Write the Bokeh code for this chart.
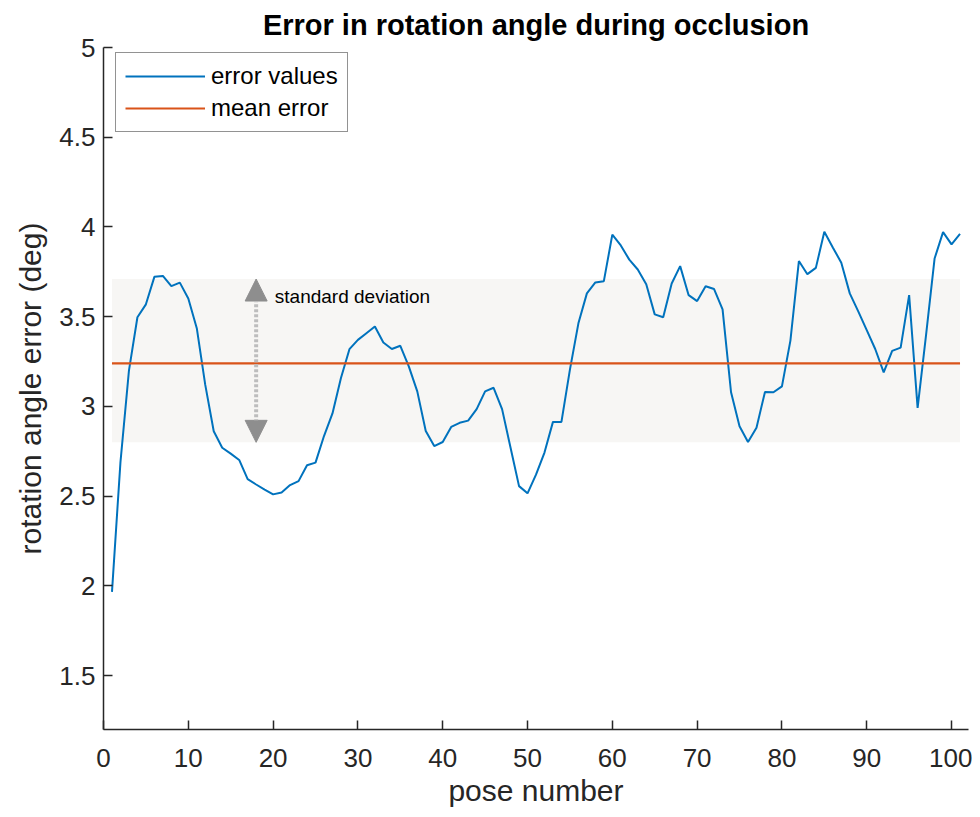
from bokeh.plotting import figure
from bokeh.models import (Range1d, FixedTicker, NumeralTickFormatter, Legend, LegendItem,
                          Arrow, NormalHead, Label)
from bokeh.embed import file_html
from bokeh.resources import INLINE

# ---- data ----
pose = list(range(1, 102))
error_values = [
    1.967, 2.69, 3.20, 3.497, 3.569, 3.722, 3.727, 3.670, 3.690, 3.602,
    3.436, 3.12, 2.862, 2.77, 2.737, 2.702, 2.595, 2.565, 2.536, 2.51,
    2.521, 2.562, 2.584, 2.672, 2.687, 2.835, 2.961, 3.158, 3.319, 3.371,
    3.408, 3.445, 3.356, 3.32, 3.338, 3.223, 3.084, 2.863, 2.779, 2.802,
    2.886, 2.909, 2.921, 2.985, 3.084, 3.104, 2.985, 2.77, 2.556, 2.516,
    2.62, 2.743, 2.914, 2.914, 3.205, 3.463, 3.63, 3.691, 3.698, 3.957,
    3.897, 3.818, 3.763, 3.681, 3.513, 3.497, 3.685, 3.782, 3.62, 3.587,
    3.67, 3.654, 3.541, 3.079, 2.89, 2.802, 2.881, 3.081, 3.079, 3.112,
    3.367, 3.81, 3.737, 3.772, 3.973, 3.886, 3.801, 3.63, 3.53, 3.425,
    3.32, 3.19, 3.31, 3.328, 3.62, 2.992, 3.40, 3.824, 3.971, 3.903,
    3.962,
]
mean_error = 3.24
std_low = 2.80
std_high = 3.71
x_ticks = [0, 10, 20, 30, 40, 50, 60, 70, 80, 90, 100]
y_ticks = [1.5, 2, 2.5, 3, 3.5, 4, 4.5, 5]

FONT = "Liberation Sans"
AXC = "#262626"

p = figure(width=972, height=809, output_backend="svg", toolbar_location=None,
           x_range=Range1d(0, 102), y_range=Range1d(1.2, 5),
           min_border_left=103, min_border_right=4, min_border_top=47,
           min_border_bottom=80)
p.outline_line_color = None
p.xgrid.visible = False
p.ygrid.visible = False
p.background_fill_color = "white"
p.border_fill_color = "white"

p.title.text = "Error in rotation angle during occlusion"
p.title.align = "center"
p.title.text_font = FONT
p.title.text_font_size = "29px"
p.title.text_font_style = "bold"
p.title.text_color = "black"
p.title.standoff = 13

# std band
p.quad(left=[pose[0]], right=[pose[-1]], bottom=[std_low], top=[std_high],
       fill_color="#f7f6f4", line_color=None)

r_err = p.line(pose, error_values, line_color="#0072BD", line_width=2)
r_mean = p.line([pose[0], pose[-1]], [mean_error, mean_error],
                line_color="#D95319", line_width=2.2)

# std arrow
arrow = Arrow(x_start=18, y_start=std_low, x_end=18, y_end=std_high,
              line_color="#bdbdbd", line_width=4, line_dash="3 2",
              start=NormalHead(size=22, fill_color="#8e8e8e", line_color="#8e8e8e"),
              end=NormalHead(size=22, fill_color="#8e8e8e", line_color="#8e8e8e"))
p.add_layout(arrow)
p.add_layout(Label(x=20.2, y=3.61, text="standard deviation", text_font=FONT,
                   text_font_size="19px", text_baseline="middle", text_color="black"))

# axes
for ax in (p.xaxis[0], p.yaxis[0]):
    ax.axis_line_color = AXC
    ax.axis_line_width = 1.5
    ax.major_tick_line_color = AXC
    ax.major_tick_line_width = 1.5
    ax.major_tick_in = 9
    ax.major_tick_out = 0
    ax.minor_tick_line_color = None
    ax.major_label_text_font = FONT
    ax.major_label_text_font_size = "26px"
    ax.major_label_text_color = AXC
    ax.axis_label_text_font = FONT
    ax.axis_label_text_font_size = "30px"
    ax.axis_label_text_font_style = "normal"
    ax.axis_label_text_color = AXC

p.xaxis.ticker = FixedTicker(ticks=x_ticks)
p.yaxis.ticker = FixedTicker(ticks=y_ticks)
p.yaxis.formatter = NumeralTickFormatter(format="0.[0]")
p.xaxis.axis_label = "pose number"
p.yaxis.axis_label = "rotation angle error (deg)"
p.xaxis.major_label_standoff = 19
p.xaxis.axis_label_standoff = 4
p.yaxis.major_label_standoff = 8
p.yaxis.axis_label_standoff = 9

legend = Legend(items=[LegendItem(label="error values", renderers=[r_err]),
                       LegendItem(label="mean error", renderers=[r_mean])],
                location=(12, 597))
legend.label_text_font = FONT
legend.label_text_font_size = "24px"
legend.label_text_color = "black"
legend.glyph_width = 80
legend.glyph_height = 26
legend.label_height = 26
legend.label_standoff = 6
legend.spacing = 4
legend.padding = 9
legend.margin = 0
legend.border_line_color = AXC
legend.border_line_width = 1
legend.background_fill_color = "white"
legend.background_fill_alpha = 1
p.add_layout(legend)

open("out.html", "w").write(file_html(p, INLINE))
